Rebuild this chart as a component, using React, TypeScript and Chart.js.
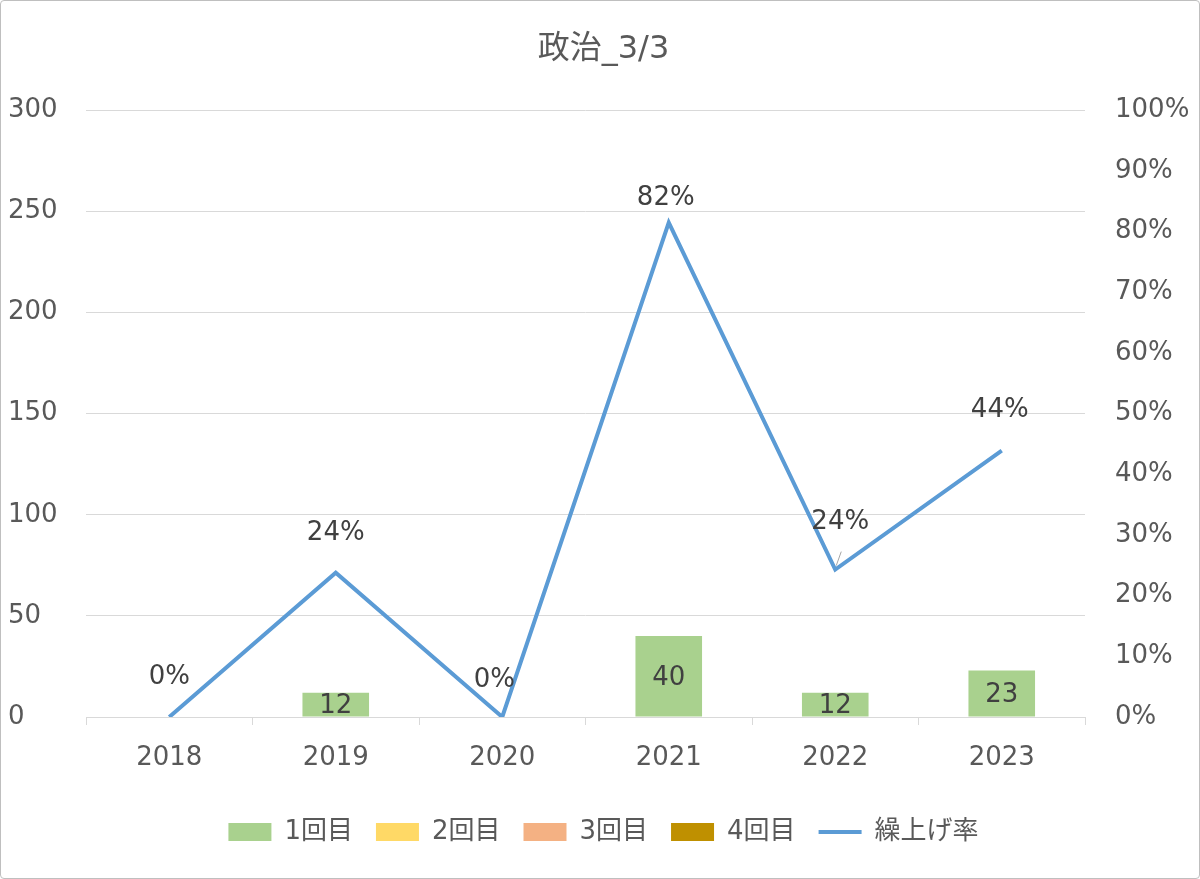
import { useEffect, useRef } from "react";
import { Chart, registerables } from "chart.js";

Chart.register(...registerables);

const years = ["2018", "2019", "2020", "2021", "2022", "2023"];
const round1 = [0, 12, 0, 40, 12, 23];
const round2 = [0, 0, 0, 0, 0, 0];
const round3 = [0, 0, 0, 0, 0, 0];
const round4 = [0, 0, 0, 0, 0, 0];
const rate = [0, 23.8, 0, 81.5, 24.3, 43.9];

// label nudges for the rate labels (px), like the hand-moved labels in the original
const rateLabelDx = [0, 0, -8, -3, 5, -2];
const rateLabelDy = [-1, 0, 2, 15, -8, -1];

const FONT = "'DejaVu Sans', 'Noto Sans CJK JP', sans-serif";
const TEXT = "#595959";
const LABEL = "#404040";
const GRID = "#d9d9d9";

const valueLabels = {
  id: "valueLabels",
  afterDatasetsDraw(chart: Chart) {
    const ctx = chart.ctx;
    ctx.save();
    ctx.font = `26px ${FONT}`;
    ctx.fillStyle = LABEL;
    ctx.textAlign = "center";
    ctx.textBaseline = "middle";

    // bar labels, centered in the bar
    chart.data.datasets.forEach((ds, di) => {
      if ((ds as any).type === "line") return;
      const meta = chart.getDatasetMeta(di);
      meta.data.forEach((el: any, i) => {
        const v = ds.data[i] as number;
        if (!v) return;
        ctx.fillText(String(v), el.x, (el.y + el.base) / 2 + 2);
      });
    });

    // rate labels above the line points
    const li = chart.data.datasets.findIndex((d) => (d as any).type === "line");
    const lineMeta = chart.getDatasetMeta(li);
    lineMeta.data.forEach((pt: any, i) => {
      const lx = pt.x + rateLabelDx[i];
      const ly = pt.y - 39 + rateLabelDy[i];
      if (rateLabelDy[i] < -5) {
        ctx.strokeStyle = "#a6a6a6";
        ctx.lineWidth = 1;
        ctx.beginPath();
        ctx.moveTo(pt.x + 1, pt.y - 4);
        ctx.lineTo(pt.x + 6, pt.y - 18);
        ctx.stroke();
      }
      ctx.fillText(`${Math.round(rate[i])}%`, lx, ly);
    });
    ctx.restore();
  },
};

export default function App() {
  const canvasRef = useRef<HTMLCanvasElement | null>(null);
  const chartRef = useRef<Chart | null>(null);

  useEffect(() => {
    if (!canvasRef.current) return;
    if (chartRef.current) chartRef.current.destroy();

    Chart.defaults.font.family = FONT;
    Chart.defaults.color = TEXT;

    chartRef.current = new Chart(canvasRef.current, {
      type: "bar",
      data: {
        labels: years,
        datasets: [
          { label: "1回目", data: round1, backgroundColor: "#A9D18E", order: 1, pointStyle: "rect" } as any,
          { label: "2回目", data: round2, backgroundColor: "#FFD966", order: 1, pointStyle: "rect" },
          { label: "3回目", data: round3, backgroundColor: "#F4B183", order: 1, pointStyle: "rect" },
          { label: "4回目", data: round4, backgroundColor: "#BF9000", order: 1, pointStyle: "rect" },
          {
            type: "line",
            label: "繰上げ率",
            data: rate,
            yAxisID: "y1",
            borderColor: "#5B9BD5",
            backgroundColor: "#5B9BD5",
            borderWidth: 4,
            pointRadius: 0,
            pointStyle: "line",
            tension: 0,
            order: 0,
          },
        ],
      },
      options: {
        animation: false,
        responsive: true,
        maintainAspectRatio: false,
        layout: { padding: { left: 7, right: 0, top: 0, bottom: 23 } },
        datasets: { bar: { barPercentage: 0.4, categoryPercentage: 1 } },
        scales: {
          x: {
            stacked: true,
            grid: { display: true, drawOnChartArea: false, drawTicks: true, tickLength: 8, color: GRID },
            border: { display: true, color: GRID, width: 1 },
            ticks: { font: { size: 26 }, color: TEXT, padding: 18 },
            afterFit: (s: any) => {
              s.height = 79;
            },
          },
          y: {
            stacked: true,
            min: 0,
            max: 300,
            ticks: { stepSize: 50, font: { size: 26 }, color: TEXT, crossAlign: "far" },
            grid: { color: GRID, drawTicks: false },
            border: { display: false },
            afterFit: (s: any) => {
              s.width = 78;
            },
          },
          y1: {
            position: "right",
            min: 0,
            max: 100,
            ticks: {
              stepSize: 10,
              font: { size: 26 },
              color: TEXT,
              padding: 30,
              callback: (v: any) => `${v}%`,
            },
            grid: { display: false, drawTicks: false },
            border: { display: false },
            afterFit: (s: any) => {
              s.width = 114;
            },
          },
        },
        plugins: {
          title: {
            display: true,
            text: "政治_3/3",
            color: TEXT,
            font: { size: 32, weight: "normal" },
            padding: { top: 29, bottom: 42 },
          },
          legend: {
            position: "bottom",
            labels: {
              usePointStyle: true,
              pointStyleWidth: 43,
              boxHeight: 18,
              padding: 23,
              color: TEXT,
              font: { size: 26 },
              sort: (a: any, b: any) => a.datasetIndex - b.datasetIndex,
            },
          },
          tooltip: { enabled: false },
        },
      },
      plugins: [valueLabels],
    });

    return () => {
      if (chartRef.current) {
        chartRef.current.destroy();
        chartRef.current = null;
      }
    };
  }, []);

  return (
    <div
      style={{
        position: "absolute",
        left: 0,
        top: 0,
        width: 1200,
        height: 879,
        boxSizing: "border-box",
        border: "1px solid #bfbfbf",
        borderRadius: 4,
        background: "#fff",
        overflow: "hidden",
      }}
    >
      <canvas ref={canvasRef} />
    </div>
  );
}
